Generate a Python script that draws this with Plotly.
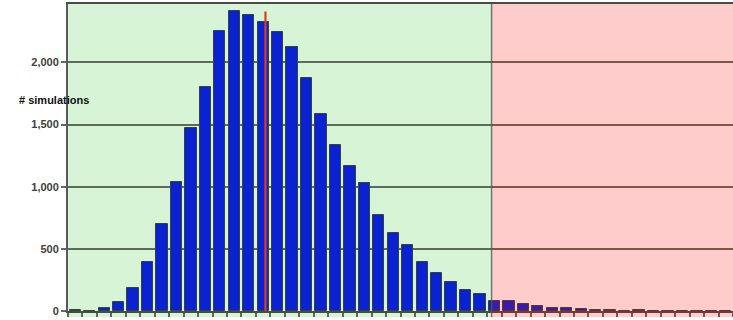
import plotly.graph_objects as go

# Histogram of simulation outcomes (46 bins)
bins = list(range(46))
counts = [8, 0, 27, 75, 188, 394, 698, 1041, 1469, 1803,
          2253, 2411, 2380, 2329, 2244, 2128, 1877, 1585, 1333, 1165,
          1028, 776, 627, 530, 394, 308, 233, 166, 134, 84,
          78, 56, 37, 27, 27, 19, 9, 9, 0, 7,
          0, 0, 0, 0, 0, 0]
y_ticks = [0, 500, 1000, 1500, 2000]
y_tick_labels = ["0", "500", "1,000", "1,500", "2,000"]
threshold_bin = 28.8   # green / red boundary (bin units)
median_bin = 13.16     # red median marker (bin units)
median_top = 2410
y_title = "# simulations"

fig = go.Figure()
fig.add_trace(go.Bar(
    x=bins, y=counts, width=0.78,
    marker=dict(color="#0a22d2", line=dict(color="#34443a", width=1)),
    hoverinfo="x+y",
))

shapes = [
    dict(type="rect", xref="x", yref="paper", x0=-0.5, x1=threshold_bin,
         y0=-0.02, y1=1, fillcolor="#d7f4d7", line=dict(width=0), layer="below"),
    dict(type="rect", xref="x", yref="paper", x0=threshold_bin, x1=45.5,
         y0=-0.02, y1=1, fillcolor="rgba(255,0,0,0.2)", line=dict(width=0), layer="above"),
    dict(type="line", xref="x", yref="paper", x0=threshold_bin, x1=threshold_bin,
         y0=-0.02, y1=1, line=dict(color="rgba(80,90,80,0.8)", width=1.5), layer="above"),
    dict(type="line", xref="x", yref="y", x0=median_bin, x1=median_bin,
         y0=-40, y1=median_top, line=dict(color="#e23a1c", width=2.2), layer="above"),
]

fig.update_layout(
    width=733, height=320,
    margin=dict(l=68, r=0, t=4, b=9, autoexpand=False),
    paper_bgcolor="white", plot_bgcolor="rgba(0,0,0,0)",
    showlegend=False, bargap=0,
    shapes=shapes,
    annotations=[dict(
        text="<b>" + y_title + "</b>", xref="paper", yref="paper",
        x=-0.076, y=0.687, xanchor="left", yanchor="middle", showarrow=False,
        font=dict(family="Liberation Sans, Arial", size=11, color="#111111"))],
)
fig.update_xaxes(
    range=[-0.5, 45.5], showgrid=False, zeroline=False,
    showline=True, linecolor="#4a4a4a", linewidth=1.5, mirror=True,
    ticks="outside", ticklen=4, tickcolor="#5a6a5a", tickwidth=1.5,
    tick0=-0.5, dtick=1, showticklabels=False, fixedrange=True,
)
fig.update_yaxes(
    range=[0, 2470], tickvals=y_ticks, ticktext=y_tick_labels,
    showgrid=True, gridcolor="#5c6c5c", gridwidth=1.5, zeroline=False,
    showline=True, linecolor="#5a5a5a", linewidth=2,
    ticks="outside", ticklen=5, tickcolor="#5c6c5c", tickwidth=1.5,
    tickfont=dict(family="Liberation Sans, Arial", size=11, color="#404040", weight="bold"),
    automargin=False, fixedrange=True,
)

fig.write_html("out.html", config={"displayModeBar": False},
               post_script="document.body.style.margin='0';document.body.style.overflow='hidden';")
